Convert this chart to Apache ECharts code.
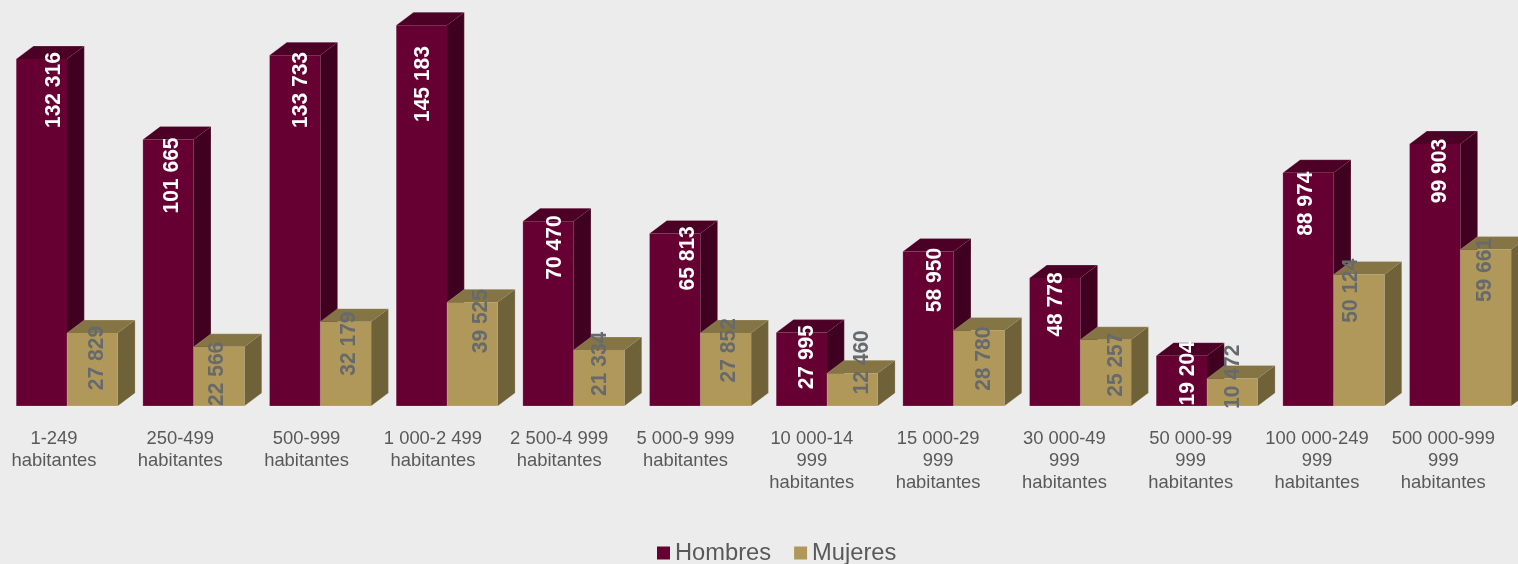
<!DOCTYPE html>
<html><head><meta charset="utf-8">
<style>html,body{margin:0;padding:0;background:#ececec;overflow:hidden}#c{width:1518px;height:564px}</style>
<script src="https://cdn.jsdelivr.net/npm/echarts@6/dist/echarts.min.js"></script>
</head><body><div id="c"></div>
<script>
var categories = ['1-249\nhabitantes','250-499\nhabitantes','500-999\nhabitantes','1 000-2 499\nhabitantes','2 500-4 999\nhabitantes','5 000-9 999\nhabitantes','10 000-14\n999\nhabitantes','15 000-29\n999\nhabitantes','30 000-49\n999\nhabitantes','50 000-99\n999\nhabitantes','100 000-249\n999\nhabitantes','500 000-999\n999\nhabitantes'];
var hombres = [132316,101665,133733,145183,70470,65813,27995,58950,48778,19204,88974,99903];
var mujeres = [27829,22566,32179,39525,21334,27852,12460,28780,25257,10472,50124,59661];
// hand-placed label nudges from the reference (px from the front-face top centre)
var hombresDx = [12.5,4,6,1.4,6.7,13.3,5.1,6.9,1.2,6.5,-2.5,4.8];
var hombresDy = [31,36,34.6,58.7,26.3,24.9,24.6,28.6,26.4,17.7,31,27];
var mujeresDx = [4.2,-2.5,3.4,8.4,0.5,2.7,9.3,4.4,9.6,0.7,-8.5,-1.2];
var mujeresDy = [25,27,22,18.8,13.8,17.3,-11,28.2,24.9,-1.8,16.1,20.4];

function fmt(v){return String(v).replace(/\B(?=(\d{3})+$)/g,' ');}
var DX=17.3, DY=13, BAR=50.8;
function bar3d(side, colors, labelColor, dxs, dys){
  return function(params, api){
    var i=api.value(0), v=api.value(1);
    var base=api.coord([i,0]), top=api.coord([i,v]);
    var x0=side<0?base[0]-BAR:base[0], x1=x0+BAR, y0=base[1], y1=top[1];
    return {type:'group',children:[
      {type:'polygon',shape:{points:[[x1,y0],[x1+DX,y0-DY],[x1+DX,y1-DY],[x1,y1]]},style:{fill:colors[2]}},
      {type:'polygon',shape:{points:[[x0,y1],[x0+DX,y1-DY],[x1+DX,y1-DY],[x1,y1]]},style:{fill:colors[1]}},
      {type:'rect',shape:{x:x0,y:y1,width:BAR,height:y0-y1},style:{fill:colors[0]}},
      {type:'polygon',shape:{points:[[x0,y0],[x0,y1],[x0+DX,y1-DY],[x1+DX,y1-DY],[x1+DX,y0-DY],[x1,y0]]},
       style:{fill:null,stroke:'rgba(255,255,255,0.18)',lineWidth:1}},
      {type:'text',x:x0+BAR/2+dxs[i],y:y1+dys[i],rotation:Math.PI/2,scaleY:1.07,z2:50,
       style:{text:fmt(v),x:0,y:0,align:'center',verticalAlign:'middle',fill:labelColor,font:'bold 21px "Liberation Sans"'}}
    ]};
  };
}
var option={
  backgroundColor:'#ececec',animation:false,
  textStyle:{fontFamily:'"Liberation Sans",Arial,sans-serif'},
  grid:[{left:3.67,top:12.7,width:1520,height:393.3,outerBoundsMode:'none'},{left:-9.15,top:12.7,width:1515.6,height:393.3,outerBoundsMode:'none'}],
  xAxis:[
    {type:'category',gridIndex:0,data:categories,axisLine:{show:false},axisTick:{show:false},axisLabel:{show:false}},
    {type:'category',gridIndex:1,data:categories,axisLine:{show:false},axisTick:{show:false},
     axisLabel:{interval:0,margin:22,fontSize:18.4,lineHeight:22,color:'#595959',fontFamily:'"Liberation Sans"'}}
  ],
  yAxis:[
    {type:'value',gridIndex:0,min:0,max:150000,show:false},
    {type:'value',gridIndex:1,min:0,max:150000,show:false}
  ],
  legend:{left:652,top:536,itemWidth:13,itemHeight:13,itemGap:23,icon:'rect',
    textStyle:{fontSize:23.7,color:'#595959',fontFamily:'"Liberation Sans"'},data:['Hombres','Mujeres']},
  series:[
    {name:'Hombres',type:'custom',xAxisIndex:0,yAxisIndex:0,itemStyle:{color:'#660033'},
     data:hombres.map(function(v,i){return [i,v];}),encode:{x:0,y:1},
     renderItem:bar3d(-1,['#660033','#4d0026','#40001f'],'#ffffff',hombresDx,hombresDy)},
    {name:'Mujeres',type:'custom',xAxisIndex:0,yAxisIndex:0,itemStyle:{color:'#b0985a'},
     data:mujeres.map(function(v,i){return [i,v];}),encode:{x:0,y:1},
     renderItem:bar3d(1,['#b0985a','#857544','#706238'],'#666a6c',mujeresDx,mujeresDy)}
  ]
};
echarts.init(document.getElementById('c')).setOption(option);
</script></body></html>
